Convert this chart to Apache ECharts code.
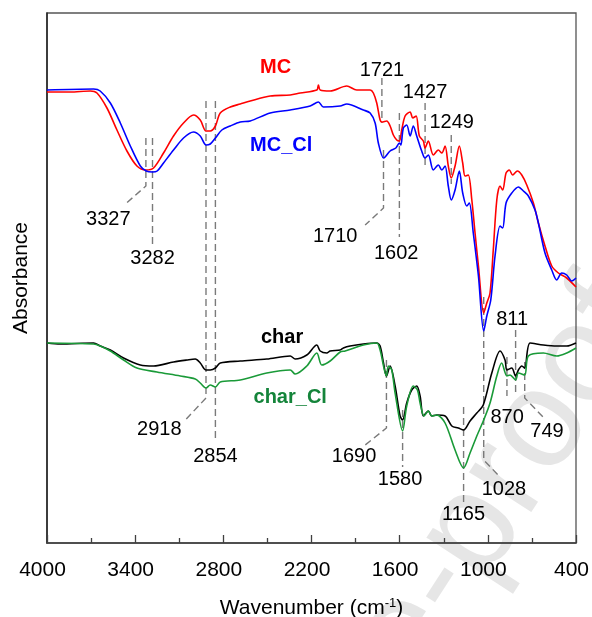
<!DOCTYPE html>
<html>
<head>
<meta charset="utf-8">
<script src="https://cdn.jsdelivr.net/npm/echarts@6/dist/echarts.min.js"></script>
<style>
  html, body { margin: 0; padding: 0; background: #fff; }
  #chart { width: 592px; height: 617px; }
</style>
</head>
<body>
<div id="chart"></div>
<script>
// Wavenumber axis labels (cm-1), drawn right-to-left
const xTicks = [4000, 3400, 2800, 2200, 1600, 1000, 400];

// FTIR spectra as [wavenumber, absorbance (a.u., offset for display)]
const mc = [[4000,4.51],[3842,4.51],[3706,4.52],[3660,4.50],[3592,4.35],[3524,4.13],[3456,3.92],[3388,3.77],[3327,3.73],[3275,3.75],[3207,3.90],[3139,4.07],[3071,4.20],[3003,4.28],[2957,4.23],[2918,4.12],[2889,4.12],[2854,4.17],[2821,4.30],[2753,4.36],[2685,4.39],[2617,4.42],[2481,4.47],[2345,4.48],[2277,4.50],[2164,4.53],[2153,4.58],[2141,4.53],[2073,4.52],[1960,4.57],[1892,4.53],[1801,4.53],[1779,4.50],[1756,4.40],[1733,4.23],[1721,4.21],[1688,4.22],[1665,4.17],[1643,4.08],[1620,4.03],[1602,4.02],[1586,4.13],[1563,4.27],[1529,4.31],[1511,4.25],[1488,4.27],[1466,4.07],[1439,4.02],[1427,3.95],[1405,4.02],[1371,3.88],[1337,3.93],[1313,3.90],[1291,3.97],[1269,3.77],[1249,3.65],[1223,3.77],[1194,3.97],[1171,3.80],[1155,3.67],[1133,3.68],[1109,3.43],[1087,3.10],[1064,2.77],[1028,2.30],[1007,2.40],[985,2.50],[963,2.93],[939,3.43],[917,3.57],[899,3.53],[876,3.70],[854,3.73],[831,3.68],[799,3.72],[769,3.68],[735,3.58],[690,3.40],[656,3.20],[611,2.97],[565,2.77],[520,2.70],[463,2.65],[407,2.57],[400,2.56]];

const mcCl = [[4000,4.53],[3683,4.54],[3638,4.52],[3569,4.40],[3501,4.20],[3433,3.97],[3365,3.77],[3325,3.72],[3282,3.71],[3250,3.72],[3207,3.80],[3139,3.93],[3071,4.05],[3003,4.11],[2957,4.07],[2918,3.98],[2889,3.99],[2854,4.05],[2810,4.13],[2753,4.17],[2685,4.21],[2617,4.22],[2481,4.30],[2345,4.33],[2209,4.37],[2153,4.41],[2119,4.36],[2005,4.37],[1960,4.39],[1847,4.33],[1801,4.30],[1767,4.20],[1745,4.00],[1710,3.85],[1699,3.86],[1665,3.92],[1626,3.95],[1602,4.00],[1592,3.98],[1575,4.15],[1552,4.18],[1529,4.07],[1507,4.17],[1484,4.07],[1450,3.92],[1427,3.85],[1405,3.88],[1371,3.73],[1337,3.78],[1313,3.73],[1291,3.77],[1269,3.57],[1249,3.43],[1223,3.53],[1194,3.72],[1171,3.50],[1143,3.37],[1126,3.40],[1099,3.10],[1064,2.67],[1028,2.12],[1007,2.27],[980,2.43],[951,2.87],[917,3.17],[899,3.15],[876,3.40],[837,3.50],[792,3.56],[758,3.52],[724,3.47],[679,3.33],[656,3.20],[611,2.90],[565,2.73],[531,2.63],[497,2.70],[463,2.68],[429,2.62],[400,2.65]];

const char = [[4000,2.00],[3910,1.99],[3683,2.00],[3638,1.97],[3569,1.93],[3479,1.85],[3365,1.78],[3275,1.77],[3139,1.81],[3048,1.83],[2991,1.84],[2957,1.80],[2918,1.73],[2889,1.73],[2854,1.75],[2821,1.80],[2685,1.82],[2504,1.84],[2345,1.87],[2311,1.84],[2232,1.88],[2164,1.98],[2141,1.92],[2096,1.90],[2073,1.92],[2005,1.93],[1983,1.95],[1937,1.97],[1847,1.99],[1756,2.00],[1733,1.97],[1710,1.80],[1690,1.67],[1665,1.77],[1631,1.57],[1597,1.27],[1580,1.23],[1552,1.40],[1518,1.53],[1484,1.57],[1461,1.47],[1439,1.27],[1405,1.32],[1381,1.27],[1347,1.28],[1291,1.27],[1245,1.17],[1201,1.15],[1165,1.13],[1121,1.22],[1075,1.30],[1031,1.38],[973,1.70],[917,1.92],[883,1.83],[870,1.73],[837,1.75],[811,1.67],[792,1.73],[769,1.77],[749,1.75],[713,2.00],[622,1.98],[531,1.97],[463,1.97],[400,2.00]];

const charCl = [[4000,2.00],[3683,1.99],[3638,1.97],[3569,1.92],[3479,1.83],[3388,1.75],[3252,1.71],[3093,1.67],[2991,1.64],[2957,1.60],[2918,1.55],[2889,1.58],[2854,1.56],[2821,1.61],[2685,1.63],[2504,1.70],[2345,1.73],[2311,1.69],[2232,1.77],[2164,1.90],[2130,1.78],[2073,1.82],[2005,1.91],[1971,1.92],[1847,1.98],[1756,2.00],[1733,1.93],[1690,1.67],[1677,1.77],[1654,1.73],[1631,1.50],[1580,1.12],[1552,1.37],[1507,1.57],[1479,1.53],[1461,1.40],[1434,1.27],[1405,1.32],[1381,1.27],[1347,1.28],[1291,1.20],[1223,0.93],[1165,0.75],[1121,0.90],[1075,1.07],[1031,1.22],[985,1.40],[939,1.67],[906,1.80],[870,1.67],[849,1.68],[811,1.63],[792,1.70],[749,1.68],[724,1.87],[622,1.90],[531,1.87],[463,1.90],[400,1.95]];

// Assigned band positions (cm-1)
const peakWavenumbers = [3327, 3282, 2918, 2854, 1721, 1710, 1602, 1427, 1249, 1690, 1580, 1165, 1028, 870, 811, 749];

// Series names
const seriesNames = ['MC', 'MC_Cl', 'char', 'char_Cl'];
</script>
<script>
// Callout geometry for each band: dashed span, optional elbow leader, text anchor
const callouts = {
  3327: { span: [4.05, 3.57], leader: [3474, 3.38], text: [3583, 3.24] },
  3282: { span: [4.05, 2.95], text: [3282, 2.85] },
  2918: { span: [4.42, 1.45], leader: [3052, 1.24], text: [3236, 1.14] },
  2854: { span: [4.42, 1.01], text: [2854, 0.87] },
  1721: { span: [4.65, 4.20], text: [1721, 4.73] },
  1710: { span: [3.93, 3.35], leader: [1835, 3.18], text: [2039, 3.07] },
  1602: { span: [4.30, 3.06], text: [1624, 2.90] },
  1427: { span: [4.40, 3.76], text: [1427, 4.51] },
  1249: { span: [4.08, 3.59], text: [1246, 4.21] },
  1690: { span: [1.83, 1.15], leader: [1835, 0.98], text: [1910, 0.87] },
  1580: { span: [1.33, 0.76], text: [1597, 0.64] },
  1165: { span: [1.36, 0.40], text: [1165, 0.29] },
  1028: { span: [2.46, 0.83], leader: [917, 0.66], text: [890, 0.54] },
  870:  { span: [1.86, 1.47], text: [869, 1.26] },
  811:  { span: [2.13, 1.47], text: [835, 2.24] },
  749:  { span: [1.81, 1.45], leader: [624, 1.26], text: [597, 1.12] }
};

// Where each series name is written
const nameSpots = {
  'MC': [2444, 4.76],
  'MC_Cl': [2406, 3.98],
  'char': [2400, 2.06],
  'char_Cl': [2345, 1.46]
};

const colors = { 'MC': '#ff0000', 'MC_Cl': '#0000ff', 'char': '#000000', 'char_Cl': '#1a9a38' };
const nameColors = { 'MC': '#ff0000', 'MC_Cl': '#0000ff', 'char': '#000000', 'char_Cl': '#14843a' };
const spectra = { 'MC': mc, 'MC_Cl': mcCl, 'char': char, 'char_Cl': charCl };
const FONT = '"Liberation Sans", Arial, Helvetica, sans-serif';

const chart = echarts.init(document.getElementById('chart'), null, { renderer: 'canvas' });

const spectrumSeries = seriesNames.map(name => ({
  name: name,
  type: 'line',
  data: spectra[name],
  showSymbol: false,
  symbol: 'none',
  smooth: 0.3,
  z: 4,
  lineStyle: { color: colors[name], width: 1.6 },
  emphasis: { disabled: true }
}));

const calloutLines = peakWavenumbers.map(wn => {
  const c = callouts[wn];
  const coords = [[wn, c.span[0]], [wn, c.span[1]]];
  if (c.leader) coords.push(c.leader);
  return { coords: coords };
});

// Text items placed through the axes: [wavenumber, absorbance]
const bandTextItems = peakWavenumbers.map(wn => ({
  text: String(wn), pos: callouts[wn].text, fill: '#000', weight: 'normal'
}));
const nameTextItems = seriesNames.map(name => ({
  text: name, pos: nameSpots[name], fill: nameColors[name], weight: 'bold'
}));
const textItems = bandTextItems.concat(nameTextItems);

const option = {
  animation: false,
  backgroundColor: '#ffffff',
  textStyle: { fontFamily: FONT },
  grid: {
    left: 47, right: 16, top: 13, bottom: 74,
    containLabel: false,
    outerBoundsMode: 'none',
    show: true, borderColor: '#555555', borderWidth: 1.3
  },
  graphic: [{
    type: 'text',
    silent: true,
    z: -10,
    x: 625, y: 297,
    rotation: 57 * Math.PI / 180,
    style: {
      text: 'Journal Pre-proof',
      font: '140px ' + FONT,
      fill: '#e6e6e6',
      align: 'right',
      verticalAlign: 'middle'
    }
  }],
  xAxis: {
    type: 'value',
    inverse: true,
    min: xTicks[xTicks.length - 1],
    max: xTicks[0],
    interval: xTicks[0] - xTicks[1],
    axisLine: { show: true, lineStyle: { color: '#404040', width: 1.5 } },
    axisTick: { show: true, inside: true, length: 8, lineStyle: { color: '#404040', width: 1.3 } },
    minorTick: { show: true, splitNumber: 2, length: 5, lineStyle: { color: '#404040', width: 1.3 } },
    splitLine: { show: false },
    axisLabel: {
      fontSize: 21, color: '#000', margin: 17, padding: [0, 9, 0, 0], fontFamily: FONT,
      formatter: v => String(v)
    },
    name: '{a|Wavenumber (cm}{s|-1}{a|)}',
    nameLocation: 'middle',
    nameGap: 54,
    nameTextStyle: {
      rich: {
        a: { fontSize: 21, color: '#000', fontFamily: FONT },
        s: { fontSize: 13, color: '#000', fontFamily: FONT, padding: [0, 0, 9, 0] }
      }
    }
  },
  yAxis: {
    type: 'value',
    min: 0,
    max: 5.3,
    axisLine: { show: true, lineStyle: { color: '#202020', width: 1.5 } },
    axisTick: { show: false },
    axisLabel: { show: false },
    splitLine: { show: false },
    name: 'Absorbance',
    nameLocation: 'middle',
    nameGap: 15,
    nameRotate: 90,
    nameTextStyle: { fontSize: 21, color: '#000', fontFamily: FONT }
  },
  series: spectrumSeries.concat([
    {
      name: 'bands',
      type: 'lines',
      coordinateSystem: 'cartesian2d',
      polyline: true,
      silent: true,
      z: 3,
      lineStyle: { color: '#7a7a7a', width: 1.4, type: [7, 4], opacity: 1 },
      data: calloutLines
    },
    {
      name: 'texts',
      type: 'custom',
      coordinateSystem: 'cartesian2d',
      silent: true,
      z: 6,
      data: textItems.map(t => t.pos),
      renderItem: (params, api) => {
        const item = textItems[params.dataIndex];
        const p = api.coord([api.value(0), api.value(1)]);
        return {
          type: 'text',
          x: p[0], y: p[1],
          style: {
            text: item.text,
            fill: item.fill,
            font: (item.weight === 'bold' ? 'bold ' : '') + '20px ' + FONT,
            align: 'center',
            verticalAlign: 'middle'
          }
        };
      }
    }
  ])
};

chart.setOption(option);
</script>
</body>
</html>
